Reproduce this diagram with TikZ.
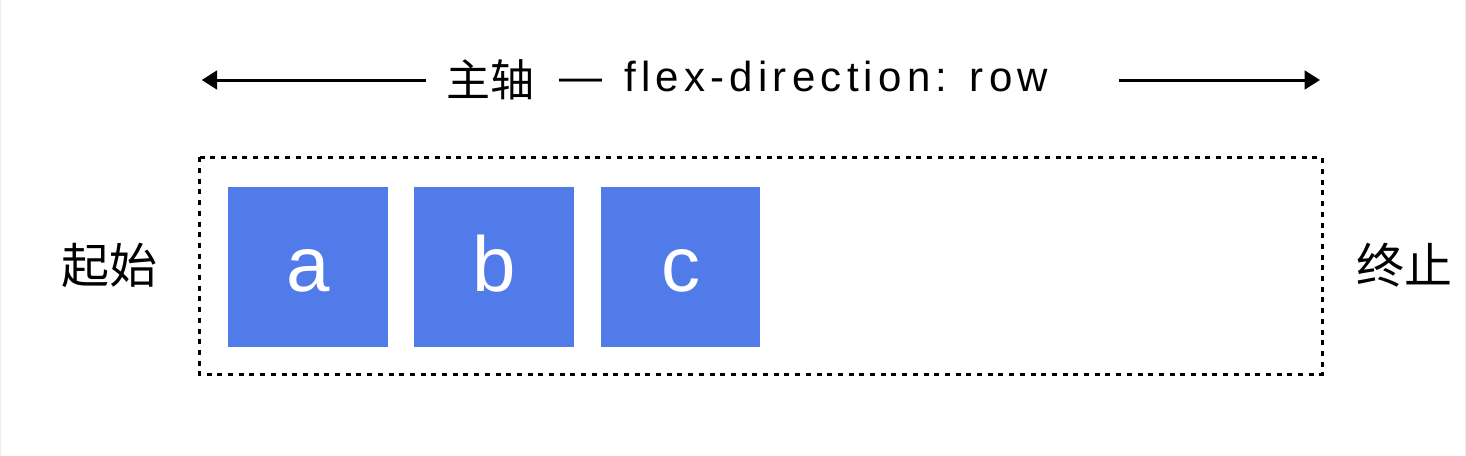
\documentclass[tikz,border=0pt]{standalone}
\usepackage{fontspec}
\setmainfont{Liberation Sans}
\newfontfamily\cjk{Noto Sans CJK SC}
\newfontfamily\latinT{Liberation Sans}[LetterSpace=12.5]
\usetikzlibrary{arrows.meta}
\definecolor{boxblue}{HTML}{507BE9}
\begin{document}
\begin{tikzpicture}[x=1pt,y=-1pt,
  axisarrow/.style={line width=3pt,-{Triangle[length=15.5pt,width=18.7pt]}},
  item/.style={fill=boxblue,draw=none,minimum width=159.5pt,minimum height=160pt,inner sep=0},
  itemlabel/.style={text=white,font=\fontsize{78}{80}\selectfont,anchor=base,inner sep=0},
  sidelabel/.style={font=\cjk\fontsize{48}{52}\selectfont,anchor=base,inner sep=0}]
\useasboundingbox (0,0) rectangle (1466,455);
\draw[black!7,line width=1pt] (0.5,0) -- (0.5,455) (1465.5,0) -- (1465.5,455);
% container
\draw[line width=3pt,dash pattern=on 5pt off 5.7pt] (199.3,157.3) rectangle (1322,374.7);
% items
\node[item] (a) at (308,266.7) {};
\node[item] (b) at (494.2,266.7) {};
\node[item] (c) at (680.7,266.7) {};
\node[itemlabel] (la) at (308,291) {a};
\node[itemlabel] (lb) at (494.2,291) {b};
\node[itemlabel] (lc) at (680.7,291) {c};
% side labels
\node[sidelabel] (start) at (109,283.5) {起始};
\node[sidelabel] (end) at (1404,283.5) {终止};
% title
\node[anchor=base west,inner sep=0] (title) at (446,91)
  {\raisebox{-5pt}{\cjk\fontsize{44}{48}\selectfont 主轴}\hspace{25pt}{\fontsize{43}{46}\selectfont —}\hspace{22pt}{\latinT\fontsize{42}{46}\selectfont flex-direction: row}};
% axis arrows
\coordinate (lstart) at (426,80);
\coordinate (ltip) at (201.7,80);
\coordinate (rstart) at (1119.3,80);
\coordinate (rtip) at (1320,80);
\draw[axisarrow] (lstart) -- (ltip);
\draw[axisarrow] (rstart) -- (rtip);
\end{tikzpicture}
\end{document}
